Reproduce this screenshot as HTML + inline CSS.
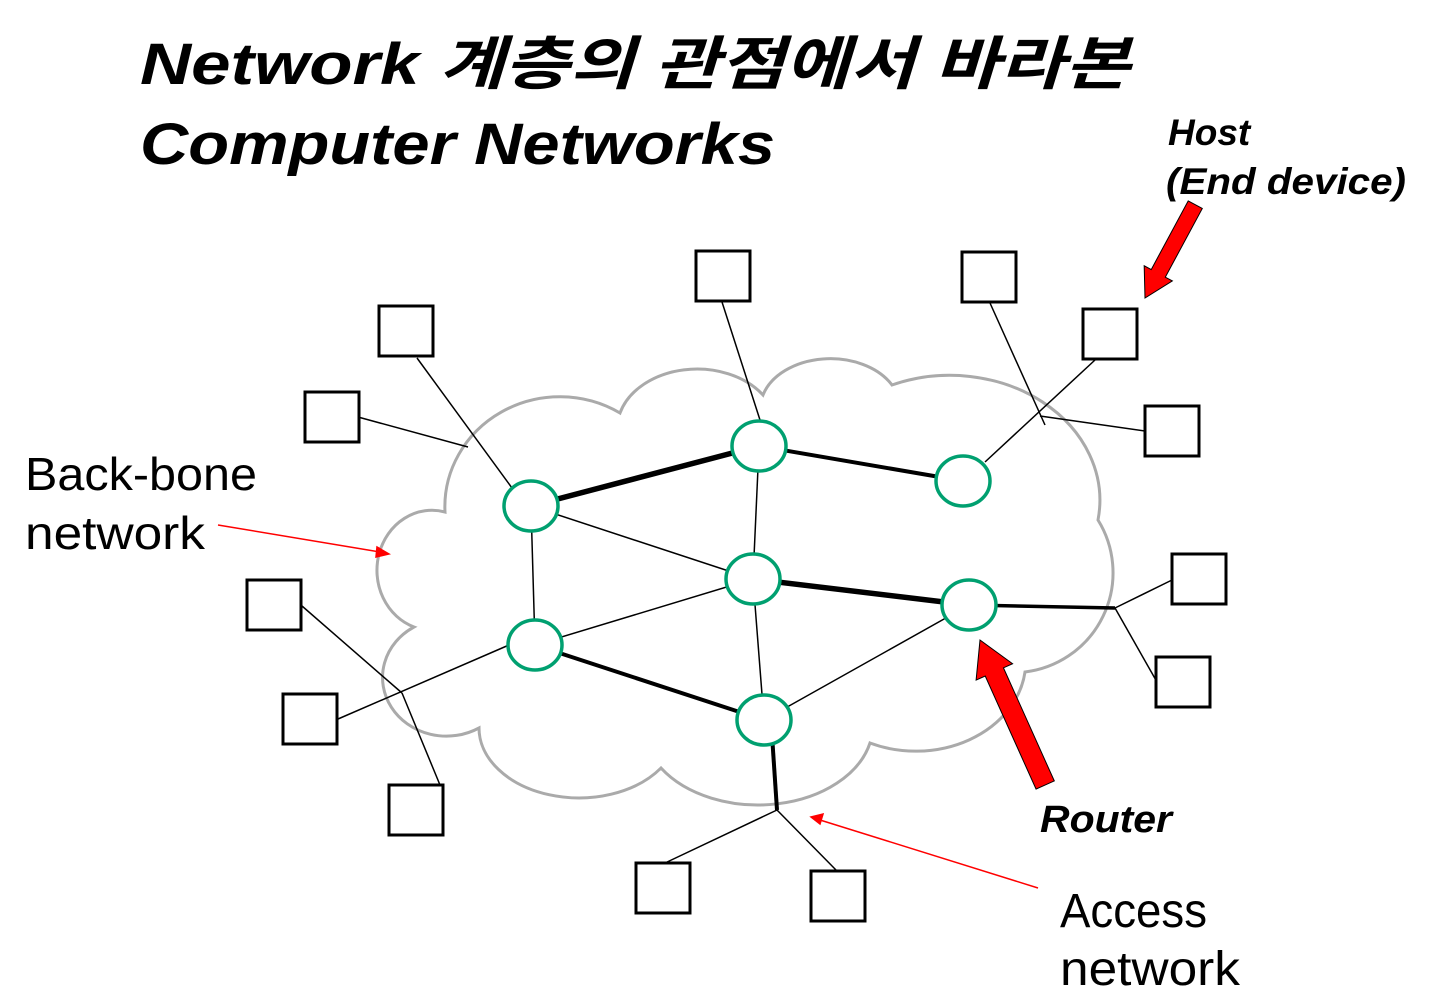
<!DOCTYPE html>
<html><head><meta charset="utf-8"><style>
html,body{margin:0;padding:0;background:#fff;}
svg{display:block;}
text{font-family:"Liberation Sans","Noto Sans CJK KR",sans-serif;}
</style></head><body>
<svg width="1447" height="1000" viewBox="0 0 1447 1000" xmlns="http://www.w3.org/2000/svg">
<text x="140" y="84" font-size="58" font-weight="bold" font-style="italic" textLength="990" lengthAdjust="spacingAndGlyphs">Network 계층의 관점에서 바라본</text>
<text x="140" y="164" font-size="58" font-weight="bold" font-style="italic" textLength="635" lengthAdjust="spacingAndGlyphs">Computer Networks</text>

<path d="M445,512 A115,110 0 0 1 620,413 A80,60 0 0 1 763,395 A70,50 0 0 1 892,385 A150,125 0 0 1 1098,520 A100,100 0 0 1 1025,672 A110,90 0 0 1 870,743 A115,80 0 0 1 661,768 A100,70 0 0 1 479,728 A60,55 0 0 1 414,627 A55,60 0 0 1 445,512 Z" fill="none" stroke="#aaa" stroke-width="3"/>

<g stroke="#000" stroke-width="1.5" fill="none">
<line x1="417" y1="358" x2="512" y2="488"/>
<line x1="358" y1="417" x2="468" y2="447"/>
<line x1="722" y1="302" x2="760" y2="420"/>
<line x1="990" y1="303" x2="1045" y2="425"/>
<line x1="1095" y1="360" x2="985" y2="462"/>
<line x1="1040" y1="416" x2="1145" y2="431"/>
<line x1="1115" y1="608" x2="1172" y2="580"/>
<line x1="1115" y1="608" x2="1157" y2="682"/>
<line x1="302" y1="606" x2="402" y2="693"/>
<line x1="402" y1="693" x2="440" y2="785"/>
<line x1="338" y1="719" x2="509" y2="645"/>
<line x1="777" y1="810" x2="665" y2="863"/>
<line x1="777" y1="810" x2="836" y2="870"/>
<line x1="531" y1="506" x2="753" y2="579"/>
<line x1="759" y1="446" x2="753" y2="579"/>
<line x1="531" y1="506" x2="535" y2="645"/>
<line x1="535" y1="645" x2="753" y2="579"/>
<line x1="753" y1="579" x2="764" y2="720"/>
<line x1="764" y1="720" x2="969" y2="605"/>
</g>
<g stroke="#000" stroke-width="4.5" fill="none">
<line x1="531" y1="506" x2="759" y2="446" stroke-width="5.5"/>
<line x1="759" y1="446" x2="963" y2="481" stroke-width="4"/>
<line x1="753" y1="579" x2="969" y2="605" stroke-width="5.5"/>
<line x1="535" y1="645" x2="764" y2="720" stroke-width="4"/>
<line x1="969" y1="605" x2="1115" y2="608" stroke-width="3.5"/>
<line x1="771" y1="720" x2="777" y2="810" stroke-width="4"/>
</g>
<g stroke="#00a070" stroke-width="3.5" fill="#fff">
<ellipse cx="531" cy="506" rx="27" ry="25"/>
<ellipse cx="759" cy="446" rx="27" ry="25"/>
<ellipse cx="963" cy="481" rx="27" ry="25"/>
<ellipse cx="753" cy="579" rx="27" ry="25"/>
<ellipse cx="969" cy="605" rx="27" ry="25"/>
<ellipse cx="535" cy="645" rx="27" ry="25"/>
<ellipse cx="764" cy="720" rx="27" ry="25"/>
</g>
<g stroke="#000" stroke-width="3" fill="#fff">
<rect x="379" y="306" width="54" height="50"/>
<rect x="305" y="392" width="54" height="50"/>
<rect x="696" y="251" width="54" height="50"/>
<rect x="962" y="252" width="54" height="50"/>
<rect x="1083" y="309" width="54" height="50"/>
<rect x="1145" y="406" width="54" height="50"/>
<rect x="1172" y="554" width="54" height="50"/>
<rect x="1156" y="657" width="54" height="50"/>
<rect x="247" y="580" width="54" height="50"/>
<rect x="283" y="694" width="54" height="50"/>
<rect x="389" y="785" width="54" height="50"/>
<rect x="636" y="863" width="54" height="50"/>
<rect x="811" y="871" width="54" height="50"/>
</g>

<g transform="translate(980,640) rotate(65.8)" fill="#f00" stroke="#000" stroke-width="1">
<polygon points="0,0 35,-20 35,-10 159,-10 159,10 35,10 35,20"/>
</g>
<g transform="translate(1145,298) rotate(-61.7)" fill="#f00" stroke="#000" stroke-width="1">
<polygon points="0,0 28,-16 28,-8 106,-8 106,8 28,8 28,16"/>
</g>
<g stroke="#f00" stroke-width="1.5" fill="#f00">
<line x1="218" y1="525" x2="380" y2="552"/>
<polygon points="389,554 377,547 376,557"/>
<line x1="1038" y1="888" x2="820" y2="820"/>
<polygon points="811,817 823,814 820,824"/>
</g>

<text x="1168" y="145" font-size="37" font-weight="bold" font-style="italic">Host</text>
<text x="1166" y="194" font-size="37" font-weight="bold" font-style="italic" textLength="240" lengthAdjust="spacingAndGlyphs">(End device)</text>
<text x="25" y="490" font-size="46" textLength="232" lengthAdjust="spacingAndGlyphs">Back-bone</text>
<text x="25" y="549" font-size="46" textLength="180" lengthAdjust="spacingAndGlyphs">network</text>
<text x="1040" y="832" font-size="38" font-weight="bold" font-style="italic" textLength="132" lengthAdjust="spacingAndGlyphs">Router</text>
<text x="1060" y="927" font-size="48" textLength="147" lengthAdjust="spacingAndGlyphs">Access</text>
<text x="1060" y="985" font-size="48" textLength="180" lengthAdjust="spacingAndGlyphs">network</text>
</svg>
</body></html>
